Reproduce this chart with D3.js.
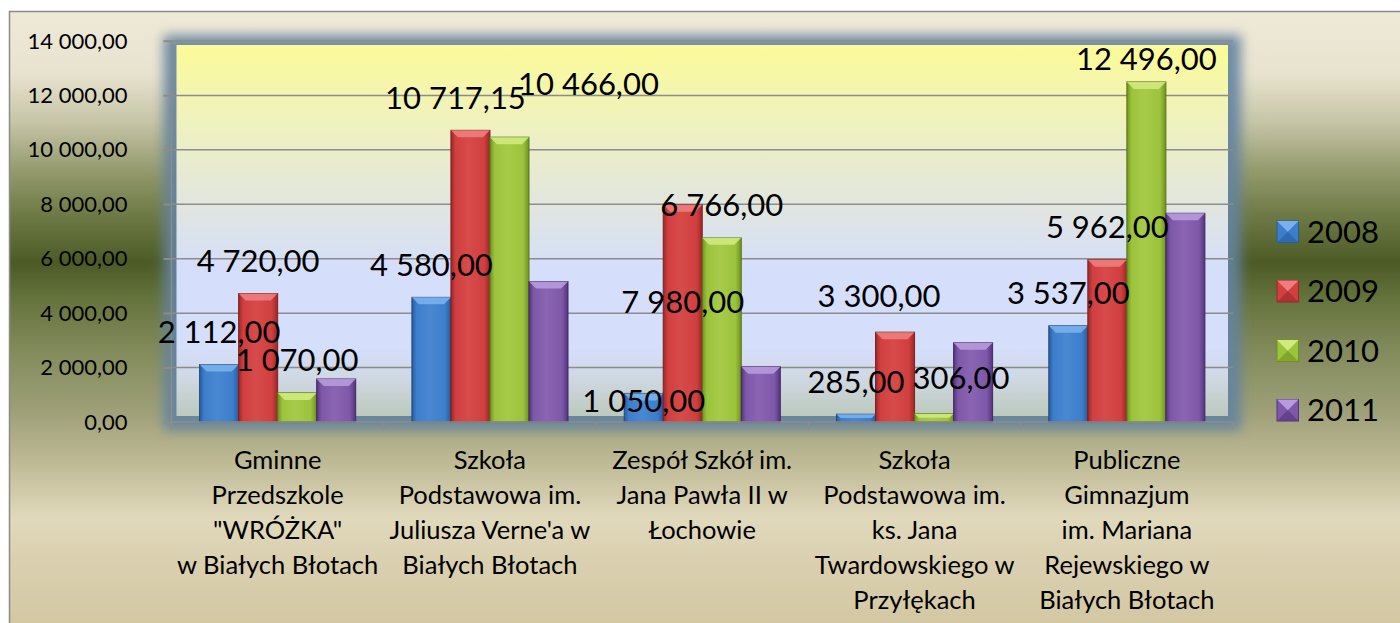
<!DOCTYPE html>
<html>
<head>
<meta charset="utf-8">
<script src="https://cdn.jsdelivr.net/npm/d3@7"></script>
<style>
  body { margin: 0; background: #fff; }
  svg { display: block; }
  text { font-family: Lato, "Open Sans", sans-serif; fill: #000; }
</style>
</head>
<body>
<script>
// categories, one entry per school (already wrapped the way the chart shows them)
var categoryLines = [
    ["Gminne", "Przedszkole", "\"WRÓŻKA\"", "w Białych Błotach"],
    ["Szkoła", "Podstawowa im.", "Juliusza Verne'a w", "Białych Błotach"],
    ["Zespół Szkół im.", "Jana Pawła II w", "Łochowie"],
    ["Szkoła", "Podstawowa im.", "ks. Jana", "Twardowskiego w", "Przyłękach"],
    ["Publiczne", "Gimnazjum", "im. Mariana", "Rejewskiego w", "Białych Błotach"]
];
var years = ["2008", "2009", "2010", "2011"];
var values2008 = [2112, 4580, 1050, 285, 3537];
var values2009 = [4720, 10717.15, 7980, 3300, 5962];
var values2010 = [1070, 10466, 6766, 306, 12496];
var values2011 = [1580, 5160, 2030, 2910, 7670];
var labelledYears = ["2008", "2009", "2010"];
var yTicks = [0, 2000, 4000, 6000, 8000, 10000, 12000, 14000];

var seriesValues = { "2008": values2008, "2009": values2009, "2010": values2010, "2011": values2011 };

// styles
var palette = {
    "2008": { dark: "#2a5b9e", mid: "#3d7ecb", light: "#7ab0ec" },
    "2009": { dark: "#9a2828", mid: "#d13f3f", light: "#ee7d7d" },
    "2010": { dark: "#6f921e", mid: "#9cc33c", light: "#d0ea7e" },
    "2011": { dark: "#54337d", mid: "#7e58a8", light: "#b89ade" }
};
// Excel moved a few data labels by hand
var labelNudge = {
    "1-2009": { dx: -15, dy: 0 },
    "1-2010": { dx: 79, dy: -21 },
    "2-2008": { dx: 0, dy: 40 },
    "2-2009": { dx: 0, dy: 130 },
    "3-2009": { dx: -16, dy: -4 },
    "3-2010": { dx: 27, dy: -3 },
    "4-2010": { dx: 0, dy: 10 }
};

var outerWidth = 1400;
var outerHeight = 623;
var margin = { top: 41, left: 171.5, right: 167, bottom: 201 };
var width = outerWidth - margin.left - margin.right;
var height = outerHeight - margin.top - margin.bottom;

var numFmt = d3.formatLocale({ decimal: ",", thousands: " ", grouping: [3], currency: ["", ""] }).format(",.2f");

var svg = d3.select("body").append("svg")
    .attr("width", outerWidth)
    .attr("height", outerHeight);

var defs = svg.append("defs");

var bgGrad = defs.append("linearGradient")
    .attr("id", "bgGrad")
    .attr("gradientUnits", "userSpaceOnUse")
    .attr("x1", 0).attr("y1", 12).attr("x2", 0).attr("y2", 623);
[[0, "#efe9d8"], [0.1, "#e8e3cf"], [0.18, "#c6c5a7"], [0.26, "#949a6d"], [0.33, "#6f7b47"],
 [0.41, "#4c5b25"], [0.47, "#65733d"], [0.55, "#818a5a"], [0.65, "#9d9f77"], [0.74, "#bfbb97"],
 [0.8, "#d6cfb0"], [0.83, "#e1d9bc"], [0.9, "#dad0b0"], [1, "#d4c8a3"]].forEach(function(s) {
    bgGrad.append("stop").attr("offset", s[0]).attr("stop-color", s[1]);
});

var plotGrad = defs.append("linearGradient")
    .attr("id", "plotGrad")
    .attr("x1", 0).attr("y1", 0).attr("x2", 0).attr("y2", 1);
[[0, "#fbfb98"], [0.22, "#eff1c0"], [0.45, "#e0e5e2"], [0.6, "#d5defa"], [0.82, "#d5defa"],
 [0.9, "#cfd8e2"], [1, "#bcc9bd"]].forEach(function(s) {
    plotGrad.append("stop").attr("offset", s[0]).attr("stop-color", s[1]);
});

var glow = defs.append("filter").attr("id", "glow")
    .attr("x", "-5%").attr("y", "-10%").attr("width", "110%").attr("height", "120%");
glow.append("feGaussianBlur").attr("stdDeviation", 6);

years.forEach(function(yr) {
    var c = palette[yr];
    var g = defs.append("linearGradient").attr("id", "bar" + yr)
        .attr("x1", 0).attr("y1", 0).attr("x2", 1).attr("y2", 0);
    [[0, c.dark], [0.12, c.mid], [0.45, d3.interpolateRgb(c.mid, c.light)(0.2)], [0.85, c.mid], [1, c.dark]]
        .forEach(function(s) { g.append("stop").attr("offset", s[0]).attr("stop-color", s[1]); });
});

// chart area background + border
svg.append("rect")
    .attr("x", 9.5).attr("y", 11.5)
    .attr("width", outerWidth).attr("height", outerHeight)
    .attr("fill", "url(#bgGrad)")
    .attr("stroke", "#8a8a8a")
    .attr("stroke-width", 1.5);

var chart = svg.append("g")
    .attr("transform", "translate(" + margin.left + "," + margin.top + ")");

// plot area: blurred frame and gradient panel
chart.append("rect")
    .attr("x", -8).attr("y", -6)
    .attr("width", width + 16).attr("height", height + 14)
    .attr("fill", "#6483a0")
    .attr("opacity", 0.9)
    .attr("filter", "url(#glow)");
chart.append("rect")
    .attr("x", 5).attr("y", 4)
    .attr("width", width - 10).attr("height", height - 10)
    .attr("fill", "url(#plotGrad)");

var x0 = d3.scaleBand()
    .domain(d3.range(categoryLines.length))
    .range([0, width]);

var x1 = d3.scaleBand()
    .domain(years)
    .range([0, x0.bandwidth()])
    .paddingOuter(0.72);

var y = d3.scaleLinear()
    .domain([0, 14000])
    .range([height, 0]);

// gridlines
chart.append("g").selectAll("line")
    .data(yTicks.slice(1))
    .enter().append("line")
    .attr("x1", -8).attr("x2", width)
    .attr("y1", function(d) { return y(d); })
    .attr("y2", function(d) { return y(d); })
    .attr("stroke", "#8c8c8c")
    .attr("stroke-width", 1.5);

// y axis
var yAxis = chart.append("g")
    .call(d3.axisLeft(y).tickValues(yTicks).tickSize(8).tickPadding(36).tickFormat(numFmt));
yAxis.select(".domain").attr("stroke", "#8c8c8c").attr("stroke-width", 1.5)
    .attr("d", "M0,0V" + (height + 8));
yAxis.selectAll(".tick line").attr("stroke", "#8c8c8c").attr("stroke-width", 1.5);
yAxis.selectAll(".tick text")
    .attr("font-family", "Lato")
    .attr("font-size", 22)
    .attr("fill", "#000");

// bars
var groups = chart.append("g").selectAll("g")
    .data(categoryLines)
    .enter().append("g")
    .attr("transform", function(d, i) { return "translate(" + x0(i) + ",0)"; });

groups.each(function(d, i) {
    var g = d3.select(this);
    years.forEach(function(yr) {
        var v = seriesValues[yr][i];
        var bx = x1(yr), bw = x1.bandwidth();
        var top = y(v), bh = height - top;
        var c = palette[yr];
        g.append("rect")
            .attr("x", bx).attr("y", top)
            .attr("width", bw).attr("height", bh)
            .attr("fill", "url(#bar" + yr + ")")
            .attr("stroke", d3.color(c.dark).darker(0.6))
            .attr("stroke-width", 1);
        var bev = Math.min(7, bh / 2);
        g.append("path")
            .attr("d", "M" + bx + "," + top + "H" + (bx + bw) + "L" + (bx + bw - bev) + "," + (top + bev) +
                "H" + (bx + bev) + "Z")
            .attr("fill", c.light)
            .attr("opacity", 0.9);
    });
});

// data labels
groups.each(function(d, i) {
    var g = d3.select(this);
    labelledYears.forEach(function(yr) {
        var v = seriesValues[yr][i];
        var n = labelNudge[i + "-" + yr] || { dx: 0, dy: 0 };
        g.append("text")
            .attr("x", x1(yr) + x1.bandwidth() / 2 + n.dx)
            .attr("y", y(v) - 21.5 + n.dy)
            .attr("text-anchor", "middle")
            .attr("font-size", 31)
            .text(numFmt(v));
    });
});

// x axis line and category ticks
chart.append("line")
    .attr("x1", 0).attr("x2", width)
    .attr("y1", height).attr("y2", height)
    .attr("stroke", "#8c8c8c").attr("stroke-width", 1.5);
chart.append("g").selectAll("line")
    .data(d3.range(categoryLines.length + 1))
    .enter().append("line")
    .attr("x1", function(d) { return d * x0.step(); })
    .attr("x2", function(d) { return d * x0.step(); })
    .attr("y1", height).attr("y2", height + 8)
    .attr("stroke", "#8c8c8c").attr("stroke-width", 1.5);

// category labels
groups.each(function(lines, i) {
    var t = d3.select(this).append("text")
        .attr("text-anchor", "middle")
        .attr("font-size", 25.5)
        .attr("transform", "translate(" + (x0.bandwidth() / 2) + "," + (height + 47) + ")");
    lines.forEach(function(line, k) {
        t.append("tspan").attr("x", 0).attr("y", k * 35).text(line);
    });
});

// legend
var legend = svg.append("g")
    .attr("transform", "translate(1277,221)");
years.forEach(function(yr, k) {
    var c = palette[yr];
    var row = legend.append("g").attr("transform", "translate(0," + (k * 59.5) + ")");
    var s = 21.5;
    row.append("rect").attr("width", s).attr("height", s).attr("fill", c.mid)
        .attr("stroke", c.dark).attr("stroke-width", 1);
    row.append("path").attr("d", "M0,0H" + s + "L" + (s / 2) + "," + (s / 2) + "Z").attr("fill", c.light);
    row.append("path").attr("d", "M0," + s + "H" + s + "L" + (s / 2) + "," + (s / 2) + "Z").attr("fill", c.dark)
        .attr("opacity", 0.6);
    row.append("text")
        .attr("x", 30).attr("y", s)
        .attr("font-size", 31)
        .text(yr);
});
</script>
</body>
</html>
